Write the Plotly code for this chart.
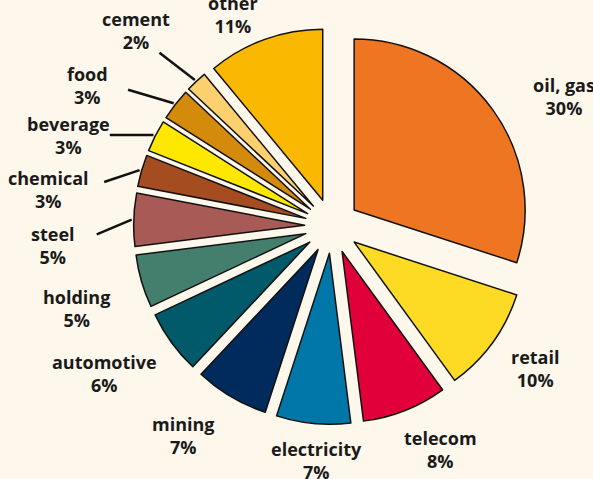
import math
import plotly.graph_objects as go

# ---- data ----
sectors = ["oil, gas", "retail", "telecom", "electricity", "mining", "automotive",
           "holding", "steel", "chemical", "beverage", "food", "cement", "other"]
shares = [30, 10, 8, 7, 7, 6, 5, 5, 3, 3, 3, 2, 11]
colors = ["#EE7623", "#FDDB25", "#E2003A", "#0077A8", "#002B5C", "#015A6A",
          "#447F6E", "#A85A56", "#A54C20", "#FFE800", "#D48B0C", "#FDD06F", "#FBB800"]
leader_sectors = ["steel", "chemical", "beverage", "food", "cement"]

# ---- layout geometry (pixels) ----
W, H = 593, 479
CX, CY = 332, 226        # pie centre
R = 171                  # slice radius
PULL = 0.16              # pull as fraction of radius
R_LABEL = 250            # radius of label centres
R_LINE = 42              # leader length beyond the pulled slice edge
BG = "#FEF8EC"
FONT = dict(family="Open Sans", size=18, color="#1A1A1A")

# hand placement tweaks (pixels) for the label text and leader-line ends
LABEL_NUDGE = {
    "oil, gas": (30, 17), "retail": (1, -4), "telecom": (16, -9),
    "electricity": (8, -14), "mining": (-21, -6), "automotive": (-25, 1),
    "holding": (-15, 13), "steel": (-29, 27), "chemical": (-43, 33),
    "beverage": (-41, 23), "food": (-47, 13), "cement": (-25, -13),
    "other": (-14, 24),
}
LINE_NUDGE = {
    "cement": (-8, 2), "food": (-14, 11), "beverage": (-8, 18),
    "chemical": (3, 23), "steel": (5, 16),
}

half = R * (1 + PULL)
dom_x = [(CX - half) / W, (CX + half) / W]
dom_y = [1 - (CY + half) / H, 1 - (CY - half) / H]

fig = go.Figure(go.Pie(
    labels=sectors, values=shares, sort=False, direction="clockwise", rotation=0,
    pull=[PULL] * len(shares),
    marker=dict(colors=colors, line=dict(color="#111111", width=1.5)),
    textinfo="none", hoverinfo="label+percent", showlegend=False,
    domain=dict(x=dom_x, y=dom_y),
))


def px(x, y):
    return x / W, 1 - y / H


total = sum(shares)
cum = 0
annotations = []
shapes = []
r_out = R * (1 + PULL)
for name, v in zip(sectors, shares):
    mid = (cum + v / 2) / total * 2 * math.pi
    cum += v
    dx, dy = math.sin(mid), -math.cos(mid)
    text = f"<b>{name}<br>{round(v / total * 100)}%</b>"
    nx, ny = LABEL_NUDGE.get(name, (0, 0))
    lx, ly = px(CX + R_LABEL * dx + nx, CY + R_LABEL * dy + ny)
    annotations.append(dict(x=lx, y=ly, xref="paper", yref="paper", text=text,
                            showarrow=False, xanchor="center", yanchor="middle",
                            align="center", font=FONT))
    if name in leader_sectors:
        r0, r1 = r_out + 2, r_out + R_LINE
        mx, my = LINE_NUDGE.get(name, (0, 0))
        a0 = px(CX + r0 * dx, CY + r0 * dy)
        a1 = px(CX + r1 * dx + mx, CY + r1 * dy + my)
        shapes.append(dict(type="line", xref="paper", yref="paper",
                           x0=a0[0], y0=a0[1], x1=a1[0], y1=a1[1],
                           line=dict(color="#111111", width=2.5)))

fig.update_layout(
    width=W, height=H, margin=dict(l=0, r=0, t=0, b=0),
    paper_bgcolor=BG, plot_bgcolor=BG,
    annotations=annotations, shapes=shapes,
)
fig.write_html("out.html",
               config={"displayModeBar": False},
               post_script="document.body.style.margin='0px';"
                           "document.body.style.overflow='hidden';"
                           "document.body.style.background='" + BG + "';")
